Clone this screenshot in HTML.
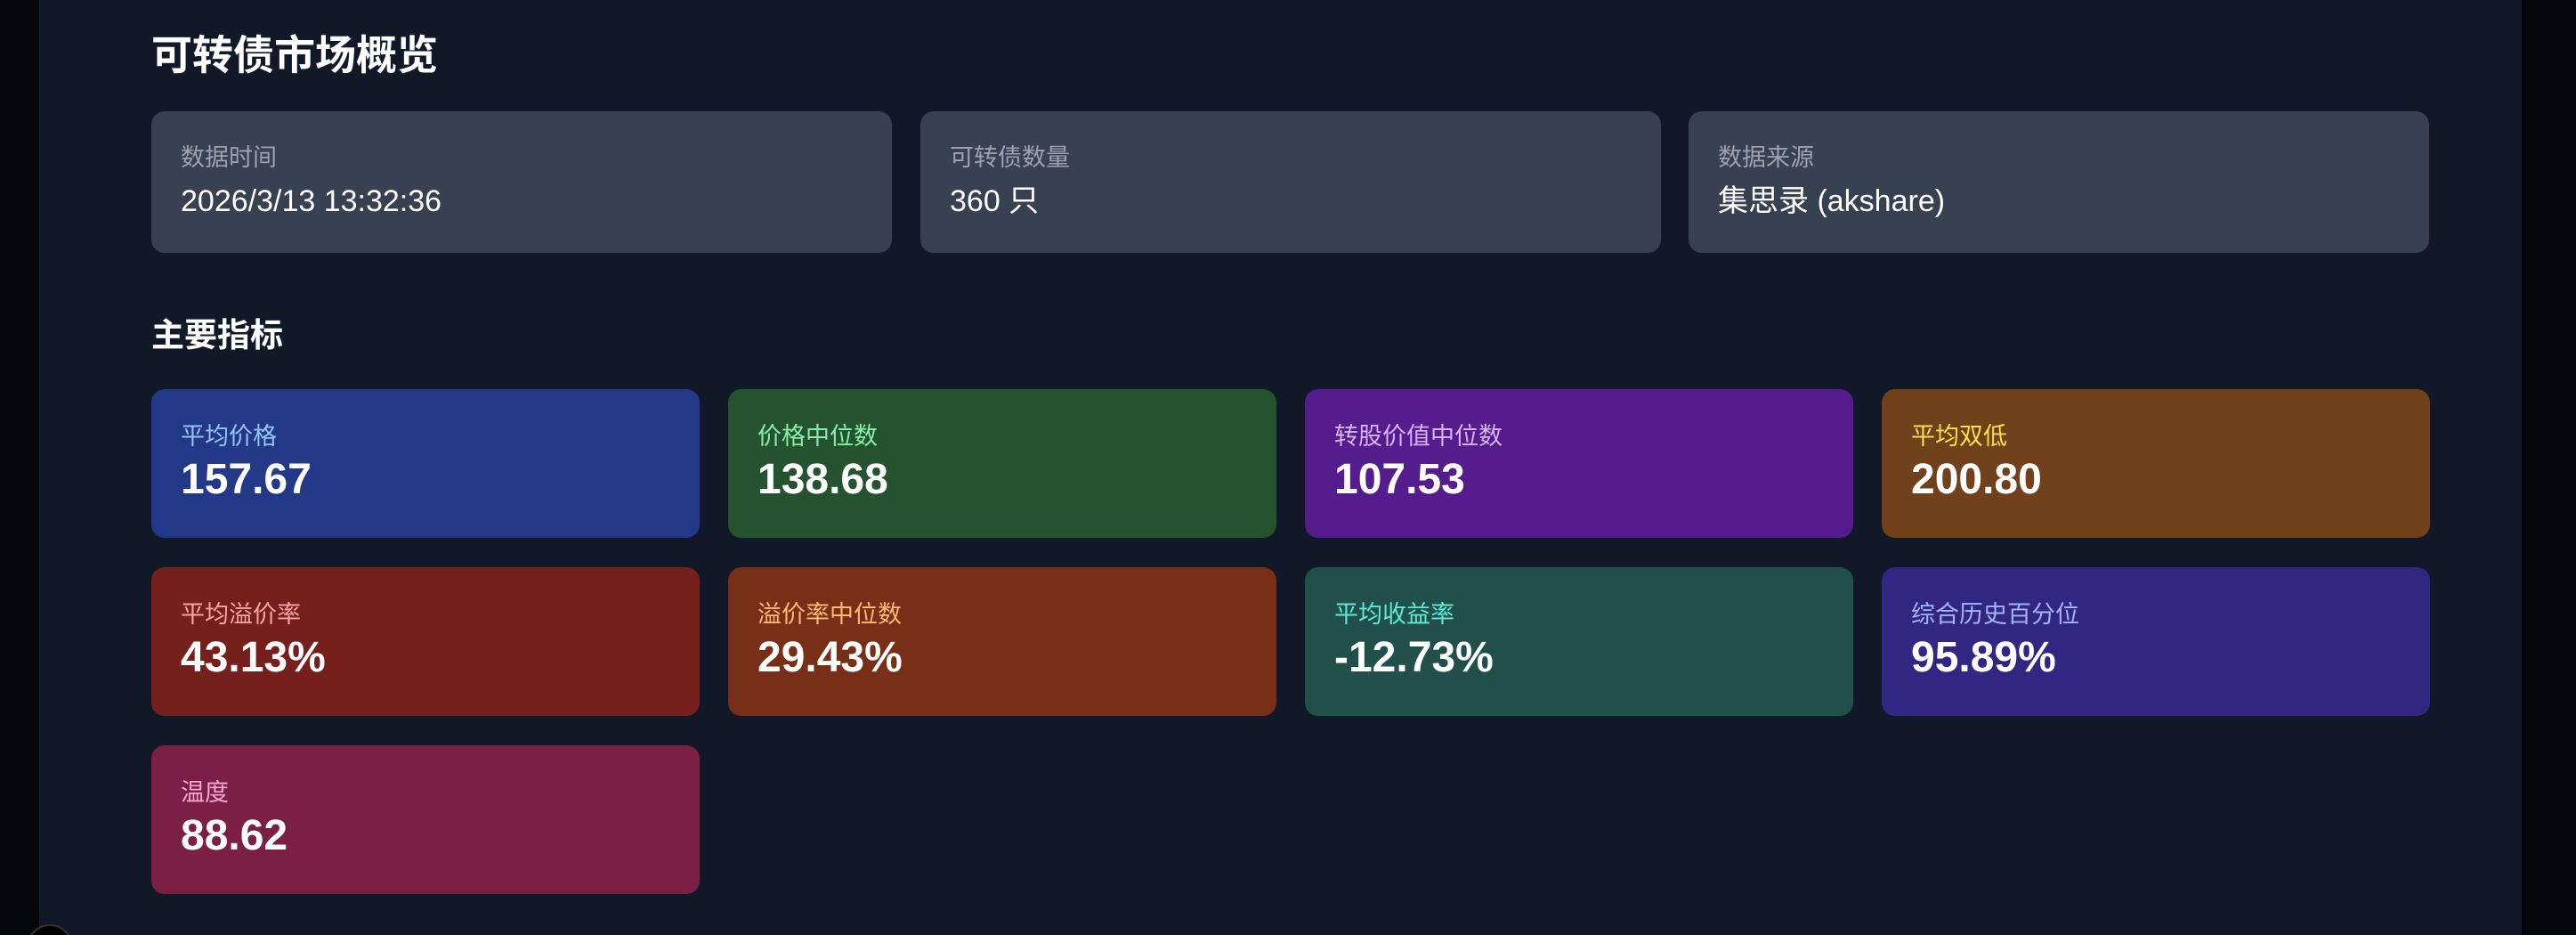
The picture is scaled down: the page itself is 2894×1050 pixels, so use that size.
<!DOCTYPE html>
<html><head><meta charset="utf-8"><style>
*{margin:0;padding:0;box-sizing:border-box}
html{width:2894px;height:1050px;overflow:hidden}
body{width:2894px;height:1050px;background:#111827;overflow:hidden;position:relative;font-family:"Liberation Sans","Noto Sans CJK SC",sans-serif;color:#fff}
.wrap{position:absolute;left:0;top:0;width:2894px;height:1050px;overflow:hidden}
.ls{position:absolute;left:0;top:0;width:44px;height:1050px;background:#05070d}
.rs{position:absolute;left:2833px;top:0;width:61px;height:1050px;background:#05070d}
h1{position:absolute;left:170px;top:34px;font-size:46px;font-weight:bold;line-height:56px}
h2{position:absolute;left:170px;top:354px;font-size:37px;font-weight:bold;line-height:46px}
.info{position:absolute;top:125px;width:832px;height:159px;background:#374151;border-radius:15px;padding:34px 0 0 33px}
.info .l{font-size:27px;color:#9ca3af;line-height:36px}
.info .v{font-size:34px;color:#fff;line-height:42px;margin-top:10px}
.m{position:absolute;width:616px;height:167px;border-radius:15px;padding:36px 0 0 33px}
.m .l{font-size:27px;line-height:34px}
.m .v{font-size:48px;font-weight:bold;line-height:56px;margin-top:4px}
.c{position:absolute;left:30px;top:1038px;width:52px;height:52px;border-radius:50%;background:#000;border:2px solid #333}
</style></head><body><div class="wrap">
<div class="ls"></div><div class="rs"></div>
<h1>可转债市场概览</h1>
<div class="info" style="left:170px"><div class="l">数据时间</div><div class="v">2026/3/13 13:32:36</div></div>
<div class="info" style="left:1034px"><div class="l">可转债数量</div><div class="v">360 只</div></div>
<div class="info" style="left:1897px"><div class="l">数据来源</div><div class="v">集思录 (akshare)</div></div>
<h2>主要指标</h2>
<div class="m" style="left:170px;top:437px;background:#233887"><div class="l" style="color:#93c5fd">平均价格</div><div class="v">157.67</div></div>
<div class="m" style="left:818px;top:437px;background:#26532f"><div class="l" style="color:#86efac">价格中位数</div><div class="v">138.68</div></div>
<div class="m" style="left:1466px;top:437px;background:#541c8c"><div class="l" style="color:#d8b4fe">转股价值中位数</div><div class="v">107.53</div></div>
<div class="m" style="left:2114px;top:437px;background:#70411a"><div class="l" style="color:#fde047">平均双低</div><div class="v">200.80</div></div>
<div class="m" style="left:170px;top:637px;background:#76201e"><div class="l" style="color:#fca5a5">平均溢价率</div><div class="v">43.13%</div></div>
<div class="m" style="left:818px;top:637px;background:#782f18"><div class="l" style="color:#fdba74">溢价率中位数</div><div class="v">29.43%</div></div>
<div class="m" style="left:1466px;top:637px;background:#21504b"><div class="l" style="color:#5eead4">平均收益率</div><div class="v">-12.73%</div></div>
<div class="m" style="left:2114px;top:637px;background:#312783"><div class="l" style="color:#a5b4fc">综合历史百分位</div><div class="v">95.89%</div></div>
<div class="m" style="left:170px;top:837px;background:#7b1f44"><div class="l" style="color:#f9a8d4">温度</div><div class="v">88.62</div></div>
<div class="c"></div>
</div></body></html>
